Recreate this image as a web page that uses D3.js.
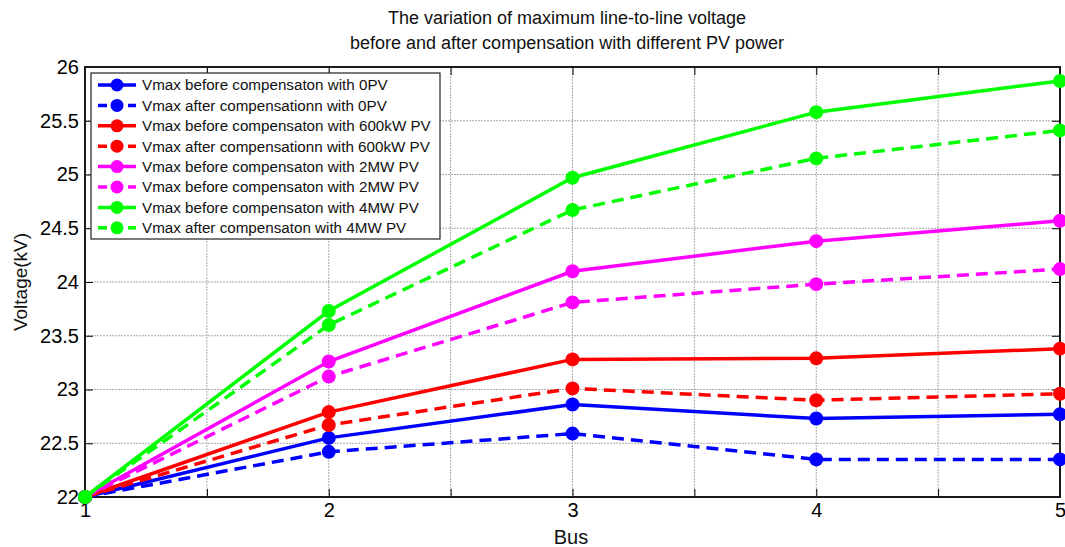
<!DOCTYPE html>
<html>
<head>
<meta charset="utf-8">
<script src="https://cdn.jsdelivr.net/npm/d3@7/dist/d3.min.js"></script>
<style>
  html, body { margin: 0; padding: 0; background: #fff; }
  svg { display: block; font-family: "Liberation Sans", Arial, sans-serif; }
</style>
</head>
<body>
<svg id="chart" width="1065" height="547"></svg>
<script>
// Bus numbers along the feeder
const buses = [1, 2, 3, 4, 5];

// Maximum line-to-line voltage (kV) at each bus
const before0PV    = [22, 22.55, 22.86, 22.73, 22.77];
const after0PV     = [22, 22.42, 22.59, 22.35, 22.35];
const before600kW  = [22, 22.79, 23.28, 23.29, 23.38];
const after600kW   = [22, 22.67, 23.01, 22.90, 22.96];
const before2MW    = [22, 23.26, 24.10, 24.38, 24.57];
const after2MW     = [22, 23.12, 23.81, 23.98, 24.12];
const before4MW    = [22, 23.73, 24.97, 25.58, 25.87];
const after4MW     = [22, 23.60, 24.67, 25.15, 25.41];

const seriesNames = [
  "Vmax before compensaton with 0PV",
  "Vmax after compensationn with 0PV",
  "Vmax before compensaton with 600kW PV",
  "Vmax after compensationn with 600kW PV",
  "Vmax before compensaton with 2MW PV",
  "Vmax before compensaton with 2MW PV",
  "Vmax before compensaton with 4MW PV",
  "Vmax after compensaton with 4MW PV"
];

const xTicks = [1, 1.5, 2, 2.5, 3, 3.5, 4, 4.5, 5];
const xTickLabels = ["1", "", "2", "", "3", "", "4", "", "5"];
const yTicks = [22, 22.5, 23, 23.5, 24, 24.5, 25, 25.5, 26];
const yTickLabels = ["22", "22.5", "23", "23.5", "24", "24.5", "25", "25.5", "26"];

const series = [
  { name: seriesNames[0], values: before0PV,   color: "#0000ff", dashed: false },
  { name: seriesNames[1], values: after0PV,    color: "#0000ff", dashed: true },
  { name: seriesNames[2], values: before600kW, color: "#ff0000", dashed: false },
  { name: seriesNames[3], values: after600kW,  color: "#ff0000", dashed: true },
  { name: seriesNames[4], values: before2MW,   color: "#ff00ff", dashed: false },
  { name: seriesNames[5], values: after2MW,    color: "#ff00ff", dashed: true },
  { name: seriesNames[6], values: before4MW,   color: "#00ff00", dashed: false },
  { name: seriesNames[7], values: after4MW,    color: "#00ff00", dashed: true }
];

const svg = d3.select("#chart");
const plot = { left: 85, right: 1060, top: 67, bottom: 497 };

const x = d3.scaleLinear().domain([1, 5]).range([plot.left, plot.right]);
const y = d3.scaleLinear().domain([22, 26]).range([plot.bottom, plot.top]);

// Grid lines
const grid = svg.append("g").attr("stroke", "#a8a8a8").attr("stroke-width", 1)
  .attr("stroke-dasharray", "2,1");
grid.selectAll(".gx").data(xTicks.slice(1, -1)).join("line")
  .attr("x1", d => x(d)).attr("x2", d => x(d))
  .attr("y1", plot.top).attr("y2", plot.bottom);
grid.selectAll(".gy").data(yTicks.slice(1, -1)).join("line")
  .attr("x1", plot.left).attr("x2", plot.right)
  .attr("y1", d => y(d)).attr("y2", d => y(d));

// Axes with inward ticks
const tickLen = 8;
const xAxis = d3.axisBottom(x).tickValues(xTicks)
  .tickFormat((d, i) => xTickLabels[i]).tickSizeInner(-tickLen).tickSizeOuter(0).tickPadding(6);
const yAxis = d3.axisLeft(y).tickValues(yTicks)
  .tickFormat((d, i) => yTickLabels[i]).tickSizeInner(-tickLen).tickSizeOuter(0).tickPadding(6);
const xAxisTop = d3.axisTop(x).tickValues(xTicks).tickFormat("").tickSizeInner(-tickLen).tickSizeOuter(0);
const yAxisRight = d3.axisRight(y).tickValues(yTicks).tickFormat("").tickSizeInner(-tickLen).tickSizeOuter(0);

function styleAxis(g) {
  g.select(".domain").remove();
  g.selectAll(".tick line").attr("stroke", "#000").attr("stroke-width", 1);
  g.selectAll(".tick text").attr("fill", "#000").style("font-size", "20px")
    .style("font-family", "'Liberation Sans', Arial, sans-serif");
}
svg.append("g").attr("transform", `translate(0,${plot.bottom})`).call(xAxis).call(styleAxis);
svg.append("g").attr("transform", `translate(${plot.left},0)`).call(yAxis).call(styleAxis);
svg.append("g").attr("transform", `translate(0,${plot.top})`).call(xAxisTop).call(styleAxis);
svg.append("g").attr("transform", `translate(${plot.right},0)`).call(yAxisRight).call(styleAxis);

// Box around the axes
svg.append("rect")
  .attr("x", plot.left).attr("y", plot.top)
  .attr("width", plot.right - plot.left).attr("height", plot.bottom - plot.top)
  .attr("fill", "none").attr("stroke", "#1a1a1a").attr("stroke-width", 2);

// Series lines and markers
const line = d3.line().x((d, i) => x(buses[i])).y(d => y(d));
const lines = svg.append("g");
series.forEach(s => {
  const g = lines.append("g");
  g.append("path").datum(s.values)
    .attr("d", line)
    .attr("fill", "none")
    .attr("stroke", s.color)
    .attr("stroke-width", 3.5)
    .attr("stroke-dasharray", s.dashed ? "12,7" : null);
  g.selectAll("circle").data(s.values).join("circle")
    .attr("cx", (d, i) => x(buses[i]))
    .attr("cy", d => y(d))
    .attr("r", 7)
    .attr("fill", s.color);
});

// Legend
const legend = svg.append("g").attr("transform", "translate(91,73)");
legend.append("rect")
  .attr("width", 349).attr("height", 166)
  .attr("fill", "#fff").attr("stroke", "#222").attr("stroke-width", 1.2);
series.forEach((s, i) => {
  const row = legend.append("g").attr("transform", `translate(0,${12 + i * 20.4})`);
  row.append("line")
    .attr("x1", 7).attr("x2", 45).attr("y1", 0).attr("y2", 0)
    .attr("stroke", s.color).attr("stroke-width", 3.5)
    .attr("stroke-dasharray", s.dashed ? "9,6" : null);
  row.append("circle").attr("cx", 26).attr("cy", 0).attr("r", 6.5).attr("fill", s.color);
  row.append("text")
    .attr("x", 51).attr("y", 0).attr("dy", "0.35em")
    .style("font-size", "15.2px").attr("fill", "#111")
    .text(s.name);
});

// Titles and axis labels
const title = svg.append("text").attr("x", 567).attr("text-anchor", "middle")
  .style("font-size", "18px").attr("fill", "#111");
title.append("tspan").attr("x", 567).attr("y", 24).text("The variation of maximum line-to-line voltage");
title.append("tspan").attr("x", 567).attr("y", 49).text("before and after compensation with different PV power");

svg.append("text").attr("x", 571).attr("y", 544).attr("text-anchor", "middle")
  .style("font-size", "20px").attr("fill", "#111").text("Bus");

svg.append("text")
  .attr("transform", "translate(27,282) rotate(-90)")
  .attr("text-anchor", "middle")
  .style("font-size", "19px").attr("fill", "#111").text("Voltage(kV)");
</script>
</body>
</html>
